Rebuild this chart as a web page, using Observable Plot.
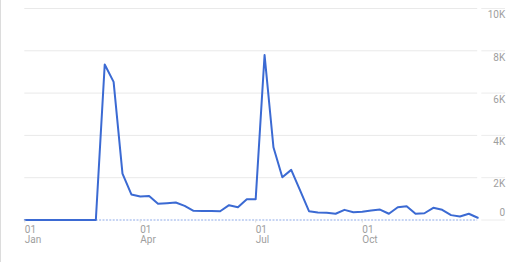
<!DOCTYPE html>
<html>
<head>
<meta charset="utf-8">
<script src="https://cdn.jsdelivr.net/npm/d3@7"></script>
<script src="https://cdn.jsdelivr.net/npm/@observablehq/plot@0.6"></script>
<style>
  html, body { margin: 0; padding: 0; background: #fff; }
  #chart svg { display: block; box-shadow: inset 1px 0 0 #dcdcdc; }
</style>
</head>
<body>
<div id="chart"></div>
<script>
// Weekly values (one point per week)
const visits = [
  0, 0, 0, 0, 0, 0, 0, 0, 0,
  7350, 6530, 2190, 1210, 1110, 1130, 765, 795, 825, 670,
  435, 430, 425, 415, 700, 605, 985, 985,
  7800, 3440, 2020, 2370, 1400, 415, 355, 340, 295, 480,
  370, 390, 450, 495, 295, 605, 650, 295, 320, 575,
  480, 230, 165, 295, 105
];
// x tick positions (week index) and their labels
const xTickWeeks = [0, 13, 26, 38];
const xTickLabels = ["01\nJan", "01\nApr", "01\nJul", "01\nOct"];
// y ticks and labels
const yTicks = [0, 2000, 4000, 6000, 8000, 10000];
const yTickLabels = ["0", "2K", "4K", "6K", "8K", "10K"];

const data = visits.map((v, i) => ({week: i, value: v}));
const yLabel = new Map(yTicks.map((t, i) => [t, yTickLabels[i]]));
const xLabel = new Map(xTickWeeks.map((t, i) => [t, xTickLabels[i]]));

const chart = Plot.plot({
  width: 525,
  height: 262,
  marginLeft: 24.3,
  marginRight: 47.8,
  marginTop: 8,
  marginBottom: 42.5,
  style: {fontFamily: "Roboto, sans-serif", fontSize: "10px", background: "#fff"},
  x: {type: "linear", domain: [0, visits.length - 1]},
  y: {domain: [0, 10000]},
  marks: [
    Plot.gridY(yTicks.slice(1), {stroke: "#e9e9e9", strokeOpacity: 1}),
    Plot.ruleY(yTicks, {stroke: "#ececec", insetLeft: 457, insetRight: -27.8}),
    Plot.ruleY([0], {stroke: "#8eaae8", strokeDasharray: "2,1.4"}),
    Plot.line(data, {x: "week", y: "value", stroke: "#3b6ad3", strokeWidth: 2}),
    Plot.axisY(yTicks.slice(1), {
      anchor: "right", tickSize: 0, tickPadding: 0, dx: 27.5, dy: 6.5,
      textAnchor: "end", fill: "#9e9e9e", label: null,
      tickFormat: d => yLabel.get(d)
    }),
    Plot.axisY([0], {
      anchor: "right", tickSize: 0, tickPadding: 0, dx: 27.5, dy: -6.8,
      textAnchor: "end", fill: "#9e9e9e", label: null,
      tickFormat: d => yLabel.get(d)
    }),
    Plot.axisX(xTickWeeks, {
      anchor: "bottom", tickSize: 3, tickPadding: 2.7, textAnchor: "start",
      stroke: "#dddddd", fill: "#9e9e9e", label: null, lineHeight: 1,
      tickFormat: d => xLabel.get(d)
    })
  ]
});
document.getElementById("chart").append(chart);
</script>
</body>
</html>
